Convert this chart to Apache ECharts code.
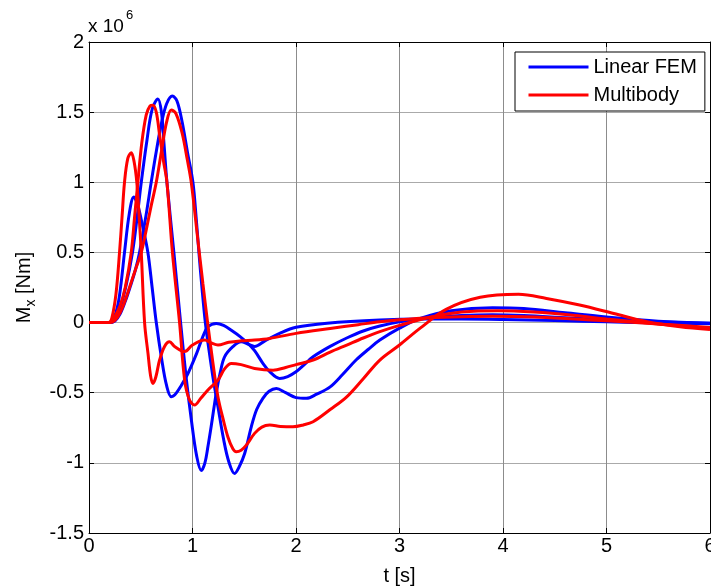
<!DOCTYPE html>
<html>
<head>
<meta charset="utf-8">
<script src="https://cdn.jsdelivr.net/npm/echarts@6/dist/echarts.min.js"></script>
<style>
  html, body { margin: 0; padding: 0; background: #fff; }
  #chart { width: 711px; height: 588px; }
</style>
</head>
<body>
<div id="chart"></div>
<script>
// Bending moment M_x over time, in units of 10^6 Nm: [t (s), M_x]
const femCurveA = [[0,0],[0.2,0],[0.24,0.03],[0.28,0.13],[0.31,0.28],[0.343,0.5],[0.39,0.78],[0.433,0.895],[0.47,0.84],[0.52,0.68],[0.569,0.5],[0.61,0.25],[0.65,0],[0.7,-0.25],[0.75,-0.45],[0.795,-0.528],[0.827,-0.517],[0.89,-0.45],[0.956,-0.363],[1.04,-0.22],[1.1,-0.1],[1.149,-0.03],[1.23,-0.006],[1.3,-0.02],[1.375,-0.055],[1.46,-0.1],[1.536,-0.149],[1.6,-0.2],[1.68,-0.29],[1.746,-0.35],[1.842,-0.398],[1.92,-0.385],[2.0,-0.351],[2.08,-0.3],[2.165,-0.244],[2.33,-0.17],[2.49,-0.11],[2.65,-0.06],[2.81,-0.025],[3.0,0.005],[3.3,0.035],[3.6,0.05],[3.9,0.055],[4.2,0.05],[4.6,0.035],[5.0,0.02],[5.5,0.005],[6,-0.005]];
const femCurveB = [[0,0],[0.2,0],[0.25,0.02],[0.3,0.1],[0.36,0.27],[0.42,0.5],[0.465,0.75],[0.505,1.0],[0.56,1.3],[0.61,1.52],[0.666,1.594],[0.7,1.5],[0.725,1.27],[0.753,1.0],[0.82,0.5],[0.885,0],[0.94,-0.4],[0.99,-0.7],[1.04,-0.95],[1.085,-1.055],[1.12,-1.0],[1.15,-0.88],[1.18,-0.743],[1.23,-0.5],[1.27,-0.35],[1.31,-0.244],[1.39,-0.172],[1.47,-0.137],[1.54,-0.155],[1.6,-0.17],[1.7,-0.13],[1.842,-0.077],[2.0,-0.034],[2.3,-0.005],[2.81,0.018],[3.2,0.025],[3.6,0.025],[4.0,0.022],[4.5,0.015],[5.0,0.005],[5.5,-0.002],[6,-0.008]];
const femCurveC = [[0,0],[0.2,0],[0.25,0.01],[0.3,0.06],[0.35,0.15],[0.4,0.26],[0.45,0.38],[0.488,0.5],[0.55,0.76],[0.601,1.0],[0.65,1.22],[0.7,1.42],[0.75,1.56],[0.805,1.615],[0.85,1.58],[0.9,1.43],[0.95,1.22],[1.004,1.0],[1.035,0.75],[1.062,0.5],[1.09,0.26],[1.124,0],[1.16,-0.2],[1.2,-0.4],[1.246,-0.6],[1.3,-0.83],[1.35,-0.99],[1.407,-1.076],[1.45,-1.03],[1.504,-0.933],[1.568,-0.743],[1.62,-0.62],[1.68,-0.54],[1.74,-0.49],[1.81,-0.47],[1.9,-0.5],[2.0,-0.535],[2.1,-0.54],[2.2,-0.51],[2.33,-0.458],[2.45,-0.37],[2.58,-0.267],[2.7,-0.19],[2.81,-0.125],[3.0,-0.04],[3.2,0.03],[3.5,0.085],[3.9,0.106],[4.2,0.1],[4.6,0.07],[5.0,0.04],[5.5,0.01],[6,-0.005]];
const mbCurveA = [[0,0],[0.19,0],[0.22,0.03],[0.26,0.2],[0.295,0.5],[0.32,0.76],[0.343,1.0],[0.375,1.17],[0.408,1.21],[0.435,1.15],[0.462,1.0],[0.485,0.75],[0.505,0.5],[0.537,0],[0.57,-0.22],[0.595,-0.38],[0.617,-0.434],[0.645,-0.39],[0.682,-0.267],[0.73,-0.17],[0.778,-0.137],[0.83,-0.172],[0.924,-0.207],[1.0,-0.16],[1.117,-0.125],[1.18,-0.145],[1.246,-0.16],[1.35,-0.14],[1.47,-0.13],[1.6,-0.125],[1.746,-0.113],[2.0,-0.077],[2.33,-0.042],[2.6,-0.015],[2.81,0.006],[3.0,0.02],[3.3,0.035],[3.6,0.042],[3.9,0.045],[4.3,0.04],[4.7,0.025],[5.0,0.013],[5.5,-0.01],[6,-0.035]];
const mbCurveB = [[0,0],[0.2,0],[0.24,0.03],[0.3,0.12],[0.35,0.25],[0.408,0.5],[0.44,0.75],[0.472,1.0],[0.51,1.28],[0.553,1.48],[0.59,1.545],[0.617,1.55],[0.65,1.5],[0.682,1.337],[0.72,1.15],[0.753,1.0],[0.806,0.5],[0.875,0],[0.924,-0.41],[0.97,-0.55],[1.02,-0.588],[1.08,-0.54],[1.149,-0.48],[1.246,-0.41],[1.31,-0.33],[1.375,-0.291],[1.47,-0.3],[1.6,-0.327],[1.778,-0.339],[1.9,-0.32],[2.0,-0.3],[2.165,-0.267],[2.33,-0.21],[2.49,-0.16],[2.65,-0.11],[2.81,-0.065],[3.0,-0.02],[3.3,0.04],[3.6,0.075],[3.95,0.085],[4.3,0.075],[4.7,0.05],[5.0,0.025],[5.5,-0.01],[6,-0.04]];
const mbCurveC = [[0,0],[0.2,0],[0.25,0.015],[0.3,0.07],[0.35,0.16],[0.4,0.27],[0.45,0.38],[0.505,0.5],[0.55,0.65],[0.6,0.83],[0.65,1.0],[0.7,1.22],[0.75,1.43],[0.795,1.516],[0.84,1.49],[0.9,1.35],[0.95,1.16],[0.988,1.0],[1.052,0.588],[1.1,0.28],[1.146,0],[1.196,-0.28],[1.246,-0.53],[1.3,-0.7],[1.342,-0.815],[1.39,-0.9],[1.423,-0.921],[1.47,-0.91],[1.52,-0.874],[1.6,-0.79],[1.67,-0.745],[1.746,-0.731],[1.85,-0.74],[1.97,-0.743],[2.07,-0.73],[2.165,-0.707],[2.33,-0.62],[2.49,-0.529],[2.65,-0.4],[2.81,-0.267],[3.0,-0.16],[3.2,-0.04],[3.45,0.094],[3.78,0.18],[4.15,0.201],[4.42,0.172],[4.74,0.125],[5.07,0.065],[5.39,0.006],[5.71,-0.03],[6,-0.049]];

// Axis ranges and tick spacing
const timeTicks = [0, 1, 2, 3, 4, 5, 6];
const momentTicks = [-1.5, -1, -0.5, 0, 0.5, 1, 1.5, 2];
const seriesNames = ['Linear FEM', 'Multibody'];

const FONT = '"Liberation Sans", Arial, Helvetica, sans-serif';
const BLUE = '#0000ff';
const RED = '#ff0000';

const chart = echarts.init(document.getElementById('chart'), null, { renderer: 'canvas' });

function curve(name, data, color) {
  return {
    name: name,
    type: 'line',
    data: data,
    symbol: 'none',
    smooth: 0.35,
    xAxisIndex: 0,
    yAxisIndex: 0,
    color: color,
    lineStyle: { color: color, width: 3 },
    emphasis: { disabled: true },
    animation: false
  };
}

const tickStyle = { show: true, inside: true, length: 5, lineStyle: { color: '#000', width: 1 } };
const lineStyleAxis = { show: true, onZero: false, lineStyle: { color: '#000', width: 1 } };

const option = {
  animation: false,
  backgroundColor: '#fff',
  textStyle: { fontFamily: FONT },
  grid: { left: 89, top: 42, right: 1, bottom: 55, containLabel: false, outerBoundsMode: 'none' },
  legend: {
    data: seriesNames,
    orient: 'vertical',
    left: 515,
    top: 52,
    padding: [5, 8, 6, 12],
    itemGap: 8,
    itemWidth: 60,
    itemHeight: 14,
    itemStyle: { opacity: 0 },
    lineStyle: { width: 3 },
    backgroundColor: '#fff',
    borderColor: '#000',
    borderWidth: 1,
    borderRadius: 0,
    textStyle: { fontFamily: FONT, fontSize: 20, color: '#000', lineHeight: 20 },
    selectedMode: false
  },
  xAxis: [
    {
      type: 'value',
      min: timeTicks[0],
      max: timeTicks[timeTicks.length - 1],
      interval: timeTicks[1] - timeTicks[0],
      position: 'bottom',
      name: 't [s]',
      nameLocation: 'middle',
      nameGap: 33,
      nameTextStyle: { fontFamily: FONT, fontSize: 20, color: '#000' },
      axisLine: lineStyleAxis,
      axisTick: tickStyle,
      axisLabel: { fontFamily: FONT, fontSize: 20, color: '#000', margin: 3, hideOverlap: false },
      splitLine: { show: true, lineStyle: { color: '#8c8c8c', width: 1 } }
    },
    {
      type: 'value',
      min: timeTicks[0],
      max: timeTicks[timeTicks.length - 1],
      interval: timeTicks[1] - timeTicks[0],
      position: 'top',
      axisLine: lineStyleAxis,
      axisTick: tickStyle,
      axisLabel: { show: false },
      splitLine: { show: false }
    }
  ],
  yAxis: [
    {
      type: 'value',
      min: momentTicks[0],
      max: momentTicks[momentTicks.length - 1],
      interval: momentTicks[1] - momentTicks[0],
      position: 'left',
      name: '{m|M}{s|x}{m| [Nm]}',
      nameLocation: 'middle',
      nameRotate: 90,
      nameGap: 52,
      nameTextStyle: {
        fontFamily: FONT, fontSize: 20, color: '#000',
        rich: {
          m: { fontFamily: FONT, fontSize: 20, color: '#000', lineHeight: 22, verticalAlign: 'top' },
          s: { fontFamily: FONT, fontSize: 14, color: '#000', lineHeight: 14, verticalAlign: 'top', padding: [10, 0, 0, 0] }
        }
      },
      axisLine: lineStyleAxis,
      axisTick: tickStyle,
      axisLabel: { fontFamily: FONT, fontSize: 20, color: '#000', margin: 5 },
      splitLine: { show: true, lineStyle: { color: '#aaaaaa', width: 1 } }
    },
    {
      type: 'value',
      min: momentTicks[0],
      max: momentTicks[momentTicks.length - 1],
      interval: momentTicks[1] - momentTicks[0],
      position: 'right',
      axisLine: lineStyleAxis,
      axisTick: tickStyle,
      axisLabel: { show: false },
      splitLine: { show: false }
    }
  ],
  graphic: [
    {
      type: 'text',
      left: 88,
      top: 17,
      style: { text: 'x 10', font: '19px ' + FONT, fill: '#000' }
    },
    {
      type: 'text',
      left: 126,
      top: 9,
      style: { text: '6', font: '13px ' + FONT, fill: '#000' }
    }
  ],
  series: [
    curve(seriesNames[0], femCurveA, BLUE),
    curve(seriesNames[0], femCurveB, BLUE),
    curve(seriesNames[0], femCurveC, BLUE),
    curve(seriesNames[1], mbCurveA, RED),
    curve(seriesNames[1], mbCurveB, RED),
    curve(seriesNames[1], mbCurveC, RED)
  ]
};

chart.setOption(option);
</script>
</body>
</html>
